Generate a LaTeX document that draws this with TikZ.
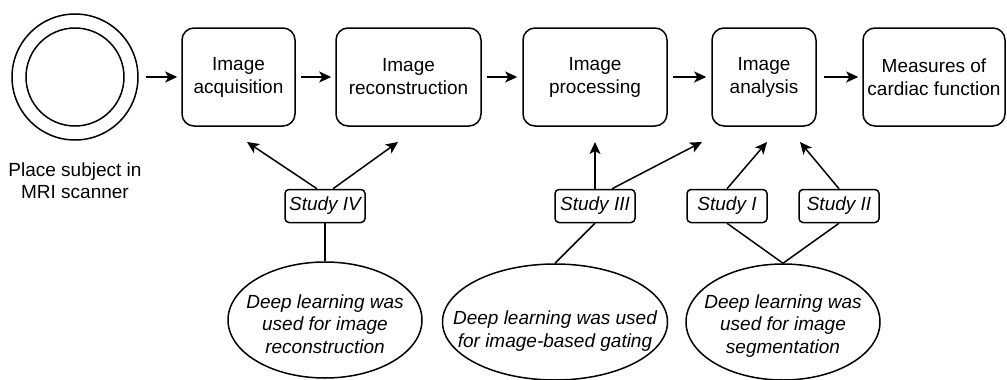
\documentclass[tikz,border=0pt]{standalone}
\usepackage{fontspec}
\setmainfont{Liberation Sans}
\usetikzlibrary{arrows.meta,shapes.geometric}

\begin{document}
\begin{tikzpicture}[x=1pt,y=-1pt,
  every node/.style={font=\fontsize{19}{23}\selectfont},
  stage/.style={draw, line width=1.5pt, rounded corners=12pt, align=center,
    inner sep=0pt, minimum height=98pt},
  study/.style={draw, line width=1.5pt, rounded corners=4pt, inner sep=0pt,
    minimum width=80pt, minimum height=33pt,
    font=\fontsize{19}{23}\selectfont\itshape},
  note/.style={draw, ellipse, line width=1.5pt, inner sep=0pt,
    minimum height=116pt},
  notetext/.style={align=center, inner sep=0pt,
    font=\fontsize{19}{22.5}\selectfont\itshape},
  ring/.style={draw, circle, line width=1.5pt, inner sep=0pt},
  flow/.style={line width=1.5pt, -{Stealth[length=12pt,width=11pt,inset=3pt]}},
  link/.style={line width=1.5pt}
]
\useasboundingbox (0,0) rectangle (1007,380);

% scanner
\node[ring, minimum size=126pt] (scanner) at (75,77) {};
\node[ring, minimum size=98pt] (bore) at (scanner.center) {};
\node[align=center, font=\fontsize{19}{22}\selectfont] (subject) at (75,181)
  {Place subject in\\MRI scanner};

% pipeline stages
\node[stage, minimum width=113pt] (acq)  at (238.5,77) {Image\\acquisition};
\node[stage, minimum width=145pt] (rec)  at (408.5,77) {Image\\reconstruction};
\node[stage, minimum width=144pt] (proc) at (595,77)   {Image\\processing};
\node[stage, minimum width=104pt] (ana)  at (764,77)   {Image\\analysis};
\node[stage, minimum width=142pt] (meas) at (934,77)   {Measures of\\cardiac function};

\draw[flow, shorten <=7pt, shorten >=4pt] (scanner) -- (acq);
\draw[flow, shorten <=5pt, shorten >=4pt] (acq) -- (rec);
\draw[flow, shorten <=5pt, shorten >=5pt] (rec) -- (proc);
\draw[flow, shorten <=5pt, shorten >=5pt] (proc) -- (ana);
\draw[flow, shorten <=7pt, shorten >=4pt] (ana) -- (meas);

% studies
\node[study] (s4) at (325,206) {Study IV};
\node[study] (s3) at (595,206) {Study III};
\node[study] (s1) at (727,206) {Study I};
\node[study] (s2) at (839,206) {Study II};

% arrow targets below the stages
\coordinate (acqIn)  at (247,142);
\coordinate (recIn)  at (398,142);
\coordinate (procIn) at (595,142);
\coordinate (anaInA) at (702,142);
\coordinate (anaInB) at (767,142);
\coordinate (anaInC) at (800,142);

\draw[flow] ([xshift=-8pt]s4.north) -- (acqIn);
\draw[flow] ([xshift=8pt]s4.north) -- (recIn);
\draw[flow] (s3.north) -- (procIn);
\draw[flow] ([xshift=17pt]s3.north) -- (anaInA);
\draw[flow] (s1.north) -- (anaInB);
\draw[flow] (s2.north) -- (anaInC);

% deep learning notes: ellipse outlines with their text on top
\node[note, minimum width=194pt] (e1) at (325,320) {};
\node[note, minimum width=225pt] (e2) at (555,322) {};
\node[note, minimum width=194pt] (e3) at (783,322) {};

\node[notetext] (t1) at ([yshift=-4pt]e1.center)
  {Deep learning was\\used for image\\reconstruction};
\node[notetext] (t2) at ([yshift=-9pt]e2.center)
  {Deep learning was used\\for image-based gating};
\node[notetext] (t3) at ([yshift=-4pt]e3.center)
  {Deep learning was\\used for image\\segmentation};

\draw[link] (s4.south) -- (e1.north);
\draw[link] (s3.south) -- (e2.north);
\draw[link] (s1.south) -- (e3.north);
\draw[link] (s2.south) -- (e3.north);
\end{tikzpicture}
\end{document}
